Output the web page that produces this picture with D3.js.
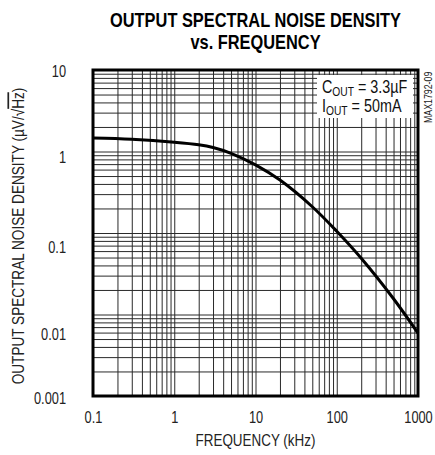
<!DOCTYPE html>
<html><head><meta charset="utf-8">
<script src="https://cdn.jsdelivr.net/npm/d3@7"></script>
<style>
html,body{margin:0;padding:0;background:#fff;}
svg{display:block;}
text{font-family:'Liberation Sans',Arial,sans-serif;}
</style></head>
<body><svg id="c" width="435" height="455"></svg>
<script>
// ---- data ----
const freqKHz = [0.1, 0.3, 1, 2, 3, 5, 10, 20, 50, 100, 200, 500, 1000];
const noiseDensity = [1.46, 1.41, 1.30, 1.21, 1.12, 0.95, 0.685, 0.446, 0.210, 0.105, 0.049, 0.0156, 0.0059];
const xTickValues = [0.1, 1, 10, 100, 1000];
const xTickLabels = ["0.1", "1", "10", "100", "1000"];
const yTickValues = [0.001, 0.01, 0.1, 1, 10];
const yTickLabels = ["0.001", "0.01", "0.1", "1", "10"];
const titleLines = ["OUTPUT SPECTRAL NOISE DENSITY", "vs. FREQUENCY"];

// ---- layout ----
const W = 435, H = 455;
const m = {left: 93, right: 17, top: 70, bottom: 59};
const iw = W - m.left - m.right, ih = H - m.top - m.bottom;
const NARROW = 0.8;
const svg = d3.select("#c");
const g = svg.append("g").attr("transform", `translate(${m.left},${m.top})`);

const x = d3.scaleLog().domain([0.1, 1000]).range([0, iw]);
const y = d3.scaleLog().domain([0.001, 10]).range([ih, 0]);

// grid
const gridX = d3.axisBottom(x).tickValues(x.ticks()).tickSize(-ih).tickFormat("");
g.append("g").attr("transform", `translate(0,${ih})`).call(gridX)
  .call(s => s.select(".domain").remove())
  .call(s => s.selectAll("line").attr("stroke", "#2a2a2a").attr("stroke-width", 1));
const gridY = d3.axisLeft(y).tickValues(y.ticks()).tickSize(-iw).tickFormat("");
g.append("g").call(gridY)
  .call(s => s.select(".domain").remove())
  .call(s => s.selectAll("line").attr("stroke", "#2a2a2a").attr("stroke-width", 1));

// legend box (white, covering grid)
g.append("rect").attr("x", 224).attr("y", 5).attr("width", 96).attr("height", 43).attr("fill", "#fff");
const leg = g.append("g").attr("transform", "translate(229,0) scale(0.82,1)")
  .attr("font-size", 17.5).attr("fill", "#111");
const t1 = leg.append("text").attr("x", 0).attr("y", 23);
t1.append("tspan").text("C");
t1.append("tspan").attr("font-size", 12.5).attr("dy", 3).text("OUT");
t1.append("tspan").attr("dy", -3).text(" = 3.3µF");
const t2 = leg.append("text").attr("x", 0).attr("y", 42);
t2.append("tspan").text("I");
t2.append("tspan").attr("font-size", 12.5).attr("dy", 3).text("OUT");
t2.append("tspan").attr("dy", -3).text(" = 50mA");

// curve
const line = d3.line().x((d, i) => x(freqKHz[i])).y(d => y(d)).curve(d3.curveCatmullRom.alpha(0.5));
g.append("path").datum(noiseDensity).attr("d", line)
  .attr("fill", "none").attr("stroke", "#000").attr("stroke-width", 3).attr("stroke-linejoin", "round");

// frame
g.append("rect").attr("width", iw).attr("height", ih).attr("fill", "none").attr("stroke", "#000").attr("stroke-width", 3);

// tick labels
const xa = d3.axisBottom(x).tickValues(xTickValues).tickFormat((d, i) => xTickLabels[i]).tickSize(0).tickPadding(16);
g.append("g").attr("transform", `translate(0,${ih})`).call(xa)
  .call(s => s.select(".domain").remove())
  .call(s => s.selectAll("text").attr("font-size", 16).attr("fill", "#222")
     .attr("transform", `scale(${NARROW},1)`).attr("font-family", "'Liberation Sans',Arial,sans-serif"));

const yNudge = [2, 20, 14, 6, 1];
const ya = d3.axisLeft(y).tickValues(yTickValues).tickFormat((d, i) => yTickLabels[i]).tickSize(0).tickPadding(0);
g.append("g").call(ya)
  .call(s => s.select(".domain").remove())
  .call(s => s.selectAll("text").attr("font-size", 16).attr("fill", "#222").attr("x", 0)
     .attr("font-family", "'Liberation Sans',Arial,sans-serif")
     .attr("transform", (d, i) => `translate(-27,${yNudge[i]}) scale(${NARROW},1)`));

// axis titles
svg.append("text").attr("transform", `translate(${m.left + iw / 2},446) scale(0.84,1)`)
  .attr("text-anchor", "middle").attr("font-size", 16).attr("fill", "#222").text("FREQUENCY (kHz)");
const yl = svg.append("text").attr("transform", `translate(24,${m.top + ih / 2 + 3}) rotate(-90) scale(0.8,1)`)
  .attr("text-anchor", "middle").attr("font-size", 17).attr("fill", "#222");
yl.append("tspan").text("OUTPUT SPECTRAL NOISE DENSITY (µV/√");
yl.append("tspan").style("text-decoration", "overline").text("Hz");
yl.append("tspan").text(")");

// title
svg.selectAll(".title").data(titleLines).enter().append("text").attr("class", "title")
  .attr("transform", (d, i) => `translate(${m.left + iw / 2},${27 + i * 22}) scale(0.82,1)`)
  .attr("text-anchor", "middle").attr("font-size", 20).attr("font-weight", "bold").attr("fill", "#000").text(d => d);

// side code
svg.append("text").attr("transform", `translate(432,123) rotate(-90) scale(0.8,1)`)
  .attr("font-size", 11).attr("fill", "#222").text("MAX1792-09");
</script></body></html>
